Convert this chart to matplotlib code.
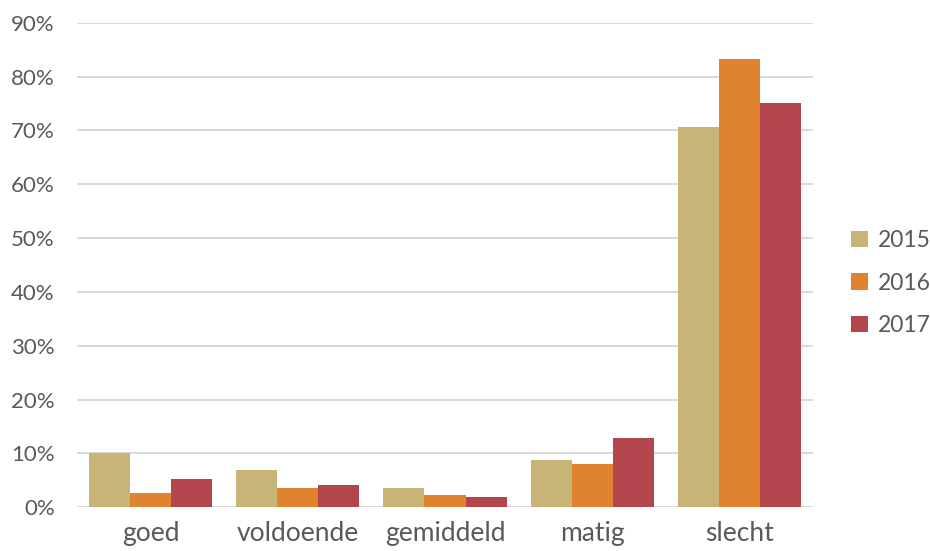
import matplotlib
matplotlib.use("Agg")
import matplotlib.pyplot as plt
import numpy as np
from matplotlib.ticker import FuncFormatter, MultipleLocator

categories = ["goed", "voldoende", "gemiddeld", "matig", "slecht"]
years = ["2015", "2016", "2017"]
v2015 = [0.100, 0.069, 0.035, 0.087, 0.707]
v2016 = [0.027, 0.035, 0.023, 0.080, 0.833]
v2017 = [0.053, 0.042, 0.019, 0.129, 0.751]
colors = ["#C8B476", "#E0832E", "#B3454D"]

plt.rcParams['font.family'] = ['Lato', 'DejaVu Sans']
text_color = "#595959"

fig = plt.figure(figsize=(9.30, 5.51), dpi=100)
ax = fig.add_axes([77/930, 1 - 507.3/551, (813-77)/930, (507.3-22.7)/551])

x = np.arange(len(categories))
w = 0.279
for i, (vals, yr) in enumerate(zip([v2015, v2016, v2017], years)):
    ax.bar(x + (i - 1) * w, vals, width=w, color=colors[i], label=yr, zorder=3)

ax.set_xlim(-0.5, len(categories) - 0.5)
ax.set_ylim(0, 0.9)
ax.yaxis.set_major_locator(MultipleLocator(0.1))
ax.yaxis.set_major_formatter(FuncFormatter(lambda v, p: f"{v*100:.0f}%"))
ax.grid(axis='y', color="#D9D9D9", linewidth=1.4, zorder=0)
for s in ax.spines.values():
    s.set_visible(False)
ax.tick_params(axis='both', length=0, colors=text_color)
ax.tick_params(axis='y', labelsize=16, pad=16)
ax.tick_params(axis='x', labelsize=19, pad=10)
ax.set_xticks(x)
ax.set_xticklabels(categories)

leg = ax.legend(loc='center left', bbox_to_anchor=((850 - 77) / 736 - 0.026, (507.3 - 283) / 484.6),
                frameon=False, fontsize=16.5, handlelength=0.7, handleheight=0.7,
                handletextpad=0.45, labelspacing=0.95, labelcolor=text_color)

fig.savefig("out.png", dpi=100)
